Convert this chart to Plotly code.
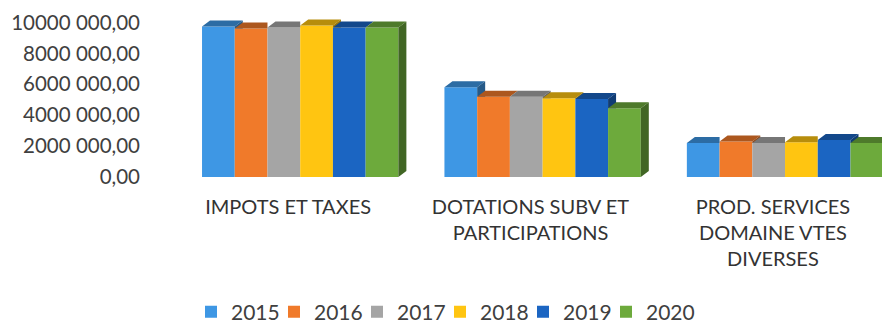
import plotly.graph_objects as go

# ---------------- data ----------------
categories = ["IMPOTS ET TAXES", "DOTATIONS SUBV ET<br>PARTICIPATIONS",
              "PROD. SERVICES<br>DOMAINE VTES<br>DIVERSES"]
years = ["2015", "2016", "2017", "2018", "2019", "2020"]
v2015 = [9740000, 5800000, 2200000]
v2016 = [9610000, 5200000, 2300000]
v2017 = [9680000, 5200000, 2200000]
v2018 = [9810000, 5100000, 2250000]
v2019 = [9680000, 5050000, 2400000]
v2020 = [9680000, 4450000, 2200000]
series = [v2015, v2016, v2017, v2018, v2019, v2020]
colors = ["#3E97E4", "#F07A2A", "#A5A5A5", "#FFC511", "#1B65C2", "#6DAA3C"]
y_tickvals = [0, 2000000, 4000000, 6000000, 8000000, 10000000]
y_ticktext = ["0,00", "2000 000,00", "4000 000,00", "6000 000,00",
              "8000 000,00", "10000 000,00"]

# ---------------- layout constants ----------------
W, H = 882, 328
ML, MR, MT, MB = 179, 0, 7, 151
XR = [-0.5, 2.4]
YR = [0, 11000000]
BARGAP = 0.19
LABEL_SHIFT = 0.05   # perspective offset of the category labels
LEG_X0, LEG_STEP, LEG_Y = 191, 83, 312
px_x = (W - ML - MR) / (XR[1] - XR[0])
px_y = (H - MT - MB) / (YR[1] - YR[0])
DX = 8 / px_x
DY = 6 / px_y


def shade(hexc, f):
    h = hexc.lstrip("#")
    r, g, b = (int(h[i:i + 2], 16) for i in (0, 2, 4))
    return "rgb(%d,%d,%d)" % (int(r * f), int(g * f), int(b * f))


def legend_id(k):
    return "legend" if k == 0 else "legend%d" % (k + 1)


fig = go.Figure()
xs = list(range(len(categories)))
n = len(series)
for k, (yr, vals, col) in enumerate(zip(years, series, colors)):
    fig.add_bar(x=xs, y=vals, name=yr, marker=dict(color=col, line=dict(width=0)),
                hoverinfo="skip", legend=legend_id(k))

# pseudo-3D faces derived from the data values
bw = (1 - BARGAP) / n
for j in range(n):
    tops_x, tops_y, side_x, side_y = [], [], [], []
    for c in xs:
        x0 = c - (1 - BARGAP) / 2 + j * bw
        x1 = x0 + bw
        v = series[j][c]
        vn = series[j + 1][c] if j < n - 1 else None
        right = x1 + DX if (vn is None or vn <= v) else x1
        tops_x += [x0, x1, right, x0 + DX, x0, None]
        tops_y += [v, v, v + DY, v + DY, v, None]
        if vn is None:
            side_x += [x1, x1, x1 + DX, x1 + DX, x1, None]
            side_y += [0, v, v + DY, DY, 0, None]
        elif vn < v:
            side_x += [x1, x1, x1 + DX, x1 + DX, x1, None]
            side_y += [vn, v, v + DY, vn, vn, None]
    fig.add_scatter(x=tops_x, y=tops_y, mode="lines", fill="toself",
                    fillcolor=shade(colors[j], 0.72), line=dict(width=0),
                    showlegend=False, hoverinfo="skip")
    if side_x:
        fig.add_scatter(x=side_x, y=side_y, mode="lines", fill="toself",
                        fillcolor=shade(colors[j], 0.6), line=dict(width=0),
                        showlegend=False, hoverinfo="skip")

legends = {}
for k in range(n):
    legends[legend_id(k)] = dict(
        orientation="h", xref="container", yref="container",
        x=(LEG_X0 + k * LEG_STEP) / W, xanchor="left",
        y=1 - LEG_Y / H, yanchor="middle",
        font=dict(size=21, color="#404040"), bgcolor="rgba(0,0,0,0)")

fig.update_layout(
    width=W, height=H,
    margin=dict(l=ML, r=MR, t=MT, b=MB, autoexpand=False),
    paper_bgcolor="white", plot_bgcolor="white",
    barmode="group", bargap=BARGAP, bargroupgap=0,
    font=dict(family="Lato, sans-serif", color="#404040"),
    showlegend=True,
    xaxis=dict(range=XR, tickvals=[c - LABEL_SHIFT for c in xs],
               ticktext=categories, showgrid=False,
               zeroline=False, showline=False, ticks="", ticklabelstandoff=16,
               tickfont=dict(size=20, color="#333333")),
    yaxis=dict(range=YR, tickvals=y_tickvals, ticktext=y_ticktext,
               showgrid=False, zeroline=False, showline=False, ticks="",
               ticklabelstandoff=38, tickfont=dict(size=20.5, color="#404040")),
    **legends,
)

fig.write_html("out.html")
